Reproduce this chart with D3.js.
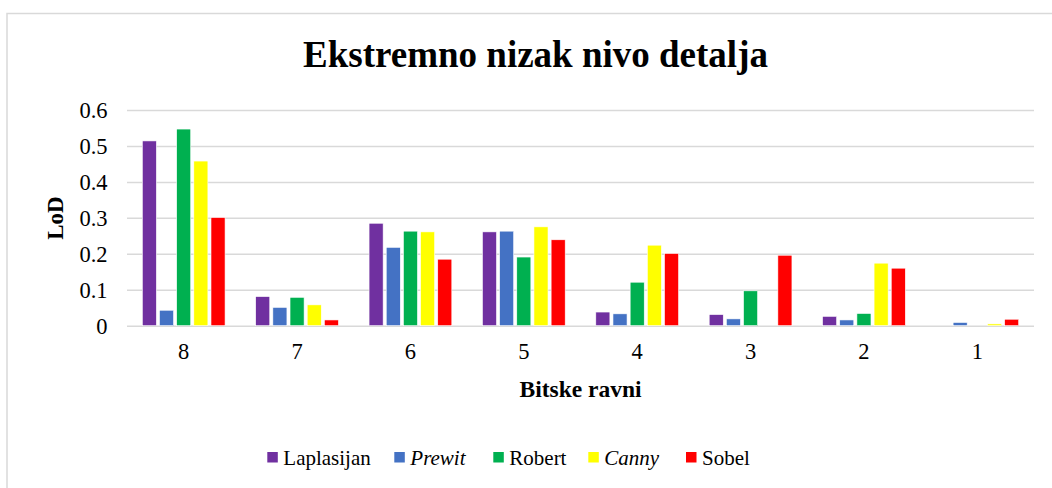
<!DOCTYPE html>
<html><head><meta charset="utf-8">
<script src="https://cdn.jsdelivr.net/npm/d3@7"></script>
<style>body{margin:0;background:#fff}svg{display:block}
svg text{font-family:"Liberation Serif","Times New Roman",serif;fill:#000}
</style>
</head><body><svg id="c" width="1052" height="488"></svg>
<script>
const categories = ["8","7","6","5","4","3","2","1"];
const seriesNames = ["Laplasijan","Prewit","Robert","Canny","Sobel"];
const seriesItalic = [false,true,false,true,false];
const seriesColors = ["#7030A0","#4472C4","#00B050","#FFFF00","#FF0000"];
const laplasijan = [0.514,0.081,0.285,0.261,0.038,0.031,0.026,0.000];
const prewit     = [0.043,0.051,0.218,0.263,0.033,0.019,0.016,0.009];
const robert     = [0.547,0.079,0.263,0.191,0.121,0.097,0.034,0.000];
const canny      = [0.458,0.058,0.261,0.275,0.224,0.000,0.174,0.005];
const sobel      = [0.301,0.016,0.185,0.239,0.201,0.196,0.160,0.018];
const yTicks = [0,0.1,0.2,0.3,0.4,0.5,0.6];
const yTickLabels = ["0","0.1","0.2","0.3","0.4","0.5","0.6"];
const titleText = "Ekstremno nizak nivo detalja";
const xTitle = "Bitske ravni";
const yTitle = "LoD";

const seriesValues = [laplasijan, prewit, robert, canny, sobel];
const svg = d3.select("#c");

// frame
svg.append("rect").attr("x",7).attr("y",13.5).attr("width",1060).attr("height",500)
  .attr("fill","#fff").attr("stroke","#d9d9d9").attr("stroke-width",1.5);

const L = 127, R = 1034, T = 110, B = 325.7;
const x0 = d3.scaleBand().domain(categories).range([L,R]).padding(0);
const gap = x0.bandwidth()*0.135;
const x1 = d3.scaleBand().domain(seriesNames).range([gap, x0.bandwidth()-gap]).paddingInner(0.18).paddingOuter(0);
const y = d3.scaleLinear().domain([0,0.6]).range([B,T]);

// gridlines + y labels
const yAxis = d3.axisLeft(y).tickValues(yTicks).tickSize(-(R-L)).tickPadding(19.5)
  .tickFormat((d,i)=>yTickLabels[i]);
const gy = svg.append("g").attr("transform",`translate(${L},0)`).call(yAxis);
gy.attr("font-family",null);
gy.select(".domain").remove();
gy.selectAll(".tick line").attr("stroke","#d9d9d9").attr("stroke-width",1.5);
gy.selectAll(".tick text").style("font-size","22.5px").attr("dy","0.34em");

// bars
const groups = svg.append("g").selectAll("g").data(categories).join("g")
  .attr("transform",d=>`translate(${x0(d)},0)`);
groups.selectAll("rect").data((d,ci)=>seriesNames.map((s,si)=>({s,si,v:seriesValues[si][ci]})))
  .join("rect")
  .attr("x",d=>x1(d.s)).attr("width",x1.bandwidth())
  .attr("y",d=>y(d.v)).attr("height",d=>B-y(d.v))
  .attr("fill",d=>seriesColors[d.si])
  .attr("stroke",d=>d.v>0?"#fff":"none").attr("stroke-width",0.6);

// x axis labels
const xAxis = d3.axisBottom(x0).tickSize(0).tickPadding(17);
const gx = svg.append("g").attr("transform",`translate(0,${B})`).call(xAxis);
gx.attr("font-family",null);
gx.select(".domain").remove();
gx.selectAll(".tick text").style("font-size","22.5px");

// titles
svg.append("text").attr("x",535.5).attr("y",67).attr("text-anchor","middle")
  .style("font-weight","bold").style("font-size","37px").text(titleText);
svg.append("text").attr("x",(L+R)/2).attr("y",397).attr("text-anchor","middle")
  .style("font-weight","bold").style("font-size","23.5px").text(xTitle);
svg.append("text").attr("transform",`translate(63,218) rotate(-90)`).attr("text-anchor","middle")
  .style("font-weight","bold").style("font-size","23px").text(yTitle);

// legend
const legendX = [267.3, 394.3, 493.3, 588.3, 686];
const lg = svg.append("g").selectAll("g").data(seriesNames).join("g")
  .attr("transform",(d,i)=>`translate(${legendX[i]},0)`);
lg.append("rect").attr("x",0).attr("y",452).attr("width",10.5).attr("height",10.5)
  .attr("fill",(d,i)=>seriesColors[i]);
lg.append("text").attr("x",16).attr("y",464.5).style("font-size","21px")
  .style("font-style",(d,i)=>seriesItalic[i]?"italic":"normal").text(d=>d);
</script></body></html>
